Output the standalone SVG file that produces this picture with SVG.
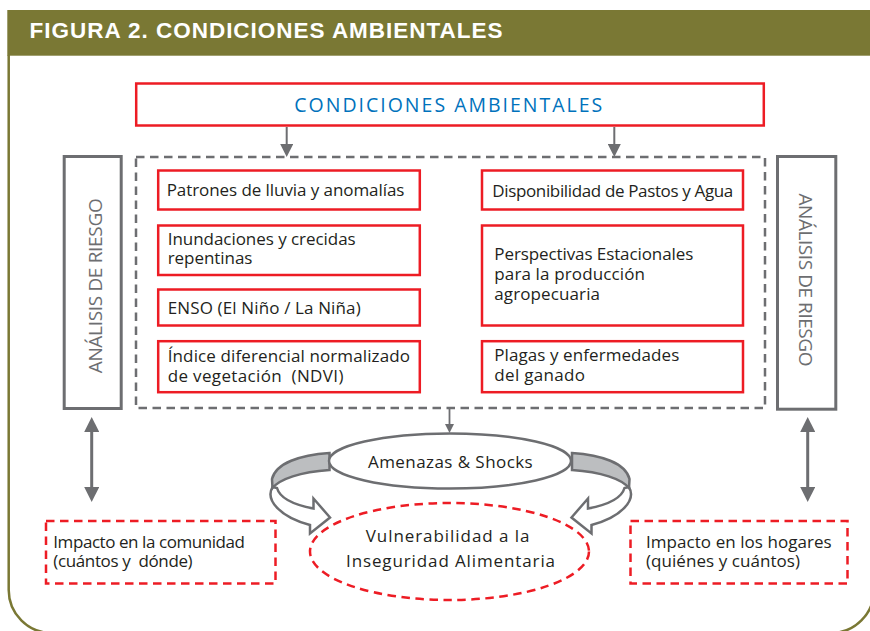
<svg xmlns="http://www.w3.org/2000/svg" xmlns:xlink="http://www.w3.org/1999/xlink" width="870" height="631" viewBox="0 0 870 631">
<style>
.t{font-family:"Open Sans","Noto Sans","DejaVu Sans",sans-serif;font-size:17px;fill:#231f20}
.red{fill:#fff;stroke:#ed1c24;stroke-width:2.5}
.reddash{fill:#fff;stroke:#ed1c24;stroke-width:2.5;stroke-dasharray:8.5 5.5}
.gbox{fill:#fff;stroke:#6d6e71;stroke-width:3}
.gline{stroke:#6d6e71;fill:none}
.side{font-family:"Open Sans","Noto Sans","DejaVu Sans",sans-serif;font-size:19px;fill:#6d6e71;text-anchor:middle}
.rib{fill:#fff;stroke:#6d6e71;stroke-width:2.5;stroke-linejoin:miter}
.band{fill:#bcbec0;stroke:#6d6e71;stroke-width:2.5}
</style>
<defs>
<marker id="ah" viewBox="0 0 13 13" refX="8" refY="6.5" markerWidth="13" markerHeight="13" markerUnits="userSpaceOnUse" orient="auto"><path d="M0,0L13,6.5L0,13z" fill="#6d6e71"/></marker>
<marker id="ahs" viewBox="0 0 9 9" refX="5" refY="4.5" markerWidth="9" markerHeight="9" markerUnits="userSpaceOnUse" orient="auto"><path d="M0,0L9,4.5L0,9z" fill="#6d6e71"/></marker>
<marker id="ahb" viewBox="0 0 15 15" refX="9" refY="7.5" markerWidth="15" markerHeight="15" markerUnits="userSpaceOnUse" orient="auto-start-reverse"><path d="M0,0L15,7.5L0,15z" fill="#6d6e71"/></marker>
<g id="ribbon">
<path class="rib" d="M272.5,487 C265,500 280,517 310,525 L310,533.5 L330,517.5 L313.5,498.5 L313.5,508.5 C295,505 280,499 277,488 Z"/>
<path class="band" d="M329.5,453 C300,455 276,463 272,479 L272.5,488 C280,479 300,472 329.5,470 Z"/>
</g>
</defs>

<!-- header and frame -->
<rect x="7.3" y="10" width="863" height="45.7" fill="#7a7834"/>
<text x="29.5" y="38" font-family="'Liberation Sans',Arial,sans-serif" font-weight="bold" font-size="22.5" fill="#fff" textLength="473">FIGURA 2. CONDICIONES AMBIENTALES</text>
<path d="M8.7,55 V590 A43,43 0 0 0 51.7,633 H831 A43,43 0 0 0 874,590 V55" fill="none" stroke="#7a7834" stroke-width="2.5"/>

<!-- connectors -->
<g id="connectors">
<line class="gline" x1="286.7" y1="127" x2="286.7" y2="152" stroke-width="2" marker-end="url(#ah)"/>
<line class="gline" x1="614.3" y1="127" x2="614.3" y2="152" stroke-width="2" marker-end="url(#ah)"/>
<line class="gline" x1="449.5" y1="409" x2="449.5" y2="429" stroke-width="1.8" marker-end="url(#ahs)"/>
<line class="gline" x1="91.7" y1="423" x2="91.7" y2="496" stroke-width="3" marker-start="url(#ahb)" marker-end="url(#ahb)"/>
<line class="gline" x1="807.7" y1="423" x2="807.7" y2="496" stroke-width="3" marker-start="url(#ahb)" marker-end="url(#ahb)"/>
<use xlink:href="#ribbon"/>
<use xlink:href="#ribbon" transform="translate(901.5,0) scale(-1,1)"/>
</g>

<g id="condiciones">
<rect class="red" x="136.2" y="83.5" width="627.6" height="42"/>
<text x="294.3" y="111.5" font-family="'Open Sans','Noto Sans',sans-serif" font-size="19.5" fill="#0072bc" textLength="308">CONDICIONES AMBIENTALES</text>
</g>

<g id="grupo">
<rect x="136" y="157" width="629" height="251" fill="none" stroke="#6d6e71" stroke-width="2.5" stroke-dasharray="8.5 5.5"/>
</g>

<g id="riesgo-izq">
<rect class="gbox" x="64.2" y="156.5" width="57" height="252"/>
<text class="side" transform="translate(101.5,285.8) rotate(-90)" textLength="175">ANÁLISIS DE RIESGO</text>
</g>
<g id="riesgo-der">
<rect class="gbox" x="777.5" y="156.5" width="58.3" height="252.7"/>
<text class="side" transform="translate(798.5,280) rotate(90)" textLength="173">ANÁLISIS DE RIESGO</text>
</g>

<g id="patrones">
<rect class="red" x="158.2" y="170.5" width="261.6" height="39"/>
<text class="t" x="166.7" y="196" textLength="237.7">Patrones de lluvia y anomalías</text>
</g>
<g id="inundaciones">
<rect class="red" x="158.2" y="225.5" width="261.6" height="49.5"/>
<text class="t" x="167.7" y="245.3" textLength="188">Inundaciones y crecidas</text>
<text class="t" x="167.7" y="264.3" textLength="84.7">repentinas</text>
</g>
<g id="enso">
<rect class="red" x="158.2" y="289.5" width="261.6" height="36"/>
<text class="t" x="167.7" y="314" textLength="193">ENSO (El Niño / La Niña)</text>
</g>
<g id="ndvi">
<rect class="red" x="158.2" y="341.2" width="261.6" height="51"/>
<text class="t" x="167.7" y="361.7" textLength="242.3">Índice diferencial normalizado</text>
<text class="t" x="167.7" y="381.7" textLength="175.7" xml:space="preserve">de vegetación  (NDVI)</text>
</g>

<g id="pastos">
<rect class="red" x="482" y="170.5" width="261" height="39"/>
<text class="t" x="492.3" y="196.5" textLength="241">Disponibilidad de Pastos y Agua</text>
</g>
<g id="perspectivas">
<rect class="red" x="482" y="225.5" width="261" height="100"/>
<text class="t" x="494.3" y="260" textLength="199">Perspectivas Estacionales</text>
<text class="t" x="494.3" y="280" textLength="150.7">para la producción</text>
<text class="t" x="494.3" y="300" textLength="105.7">agropecuaria</text>
</g>
<g id="plagas">
<rect class="red" x="482" y="341.2" width="261" height="51"/>
<text class="t" x="494.3" y="360.7" textLength="185">Plagas y enfermedades</text>
<text class="t" x="494.3" y="380.7" textLength="90.7">del ganado</text>
</g>

<g id="amenazas">
<ellipse cx="450" cy="461" rx="121" ry="27.5" fill="#fff" stroke="#6d6e71" stroke-width="2.5"/>
<text class="t" x="368" y="468.3" font-size="17.5" textLength="164.7">Amenazas &amp; Shocks</text>
</g>

<g id="vulnerabilidad">
<ellipse cx="449.5" cy="551.5" rx="139.5" ry="48.5" fill="none" stroke="#ed1c24" stroke-width="2.5" stroke-dasharray="8.5 5.5"/>
<text class="t" x="365.7" y="541.7" font-size="19" textLength="163.7">Vulnerabilidad a la</text>
<text class="t" x="346" y="566.7" font-size="19" textLength="209">Inseguridad Alimentaria</text>
</g>

<g id="comunidad">
<rect class="reddash" x="46" y="521" width="229.5" height="62.5"/>
<text class="t" x="53.3" y="547.7" textLength="191.7">Impacto en la comunidad</text>
<text class="t" x="53.3" y="566.7" textLength="139.3" xml:space="preserve">(cuántos y  dónde)</text>
</g>
<g id="hogares">
<rect class="reddash" x="630.5" y="521" width="217" height="62.5"/>
<text class="t" x="646" y="547.7" textLength="185.7">Impacto en los hogares</text>
<text class="t" x="646" y="566.7" textLength="154">(quiénes y cuántos)</text>
</g>
</svg>
